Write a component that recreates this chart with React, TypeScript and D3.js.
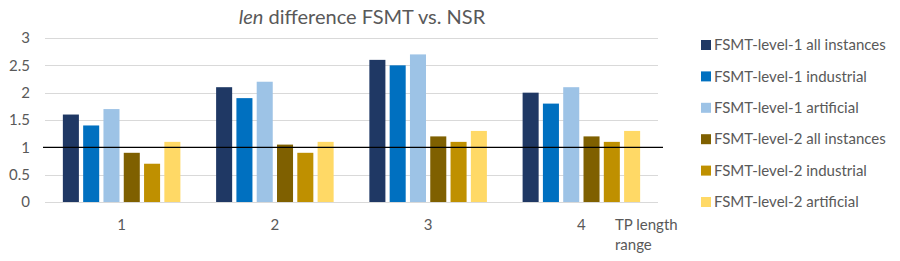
import React, { useRef, useEffect } from 'react';
import * as d3 from 'd3';

const categories = ['1', '2', '3', '4'];
const seriesNames = [
  'FSMT-level-1 all instances',
  'FSMT-level-1 industrial',
  'FSMT-level-1 artificial',
  'FSMT-level-2 all instances',
  'FSMT-level-2 industrial',
  'FSMT-level-2 artificial',
];
const level1All = [1.6, 2.1, 2.6, 2.0];
const level1Industrial = [1.4, 1.9, 2.5, 1.8];
const level1Artificial = [1.7, 2.2, 2.7, 2.1];
const level2All = [0.9, 1.05, 1.2, 1.2];
const level2Industrial = [0.7, 0.9, 1.1, 1.1];
const level2Artificial = [1.1, 1.1, 1.3, 1.3];
const yTicks = [0, 0.5, 1, 1.5, 2, 2.5, 3];
const colors = ['#1F3864', '#0070C0', '#9DC3E6', '#7F6000', '#BF9000', '#FFD966'];

const App = () => {
  const ref = useRef<SVGSVGElement>(null);

  useEffect(() => {
    const width = 900;
    const height = 261;
    const font = 'Lato, "Open Sans", sans-serif';
    const values = [level1All, level1Industrial, level1Artificial, level2All, level2Industrial, level2Artificial];

    const svg = d3.select(ref.current);
    svg.selectAll('*').remove();
    svg.attr('width', width).attr('height', height).style('font-family', font);

    svg.append('rect').attr('width', width).attr('height', height).attr('fill', '#fff');

    const x0 = d3.scaleBand<string>().domain(categories).range([45, 658]);
    const x1 = d3.scaleBand<string>()
      .domain(seriesNames)
      .range([0, x0.bandwidth()])
      .paddingInner(0.21)
      .paddingOuter(0.88);
    const y = d3.scaleLinear().domain([0, 3]).range([202, 38]);

    // gridlines
    svg.append('g')
      .selectAll('line')
      .data(yTicks)
      .join('line')
      .attr('x1', 45)
      .attr('x2', 658)
      .attr('y1', d => Math.round(y(d)) + 0.5)
      .attr('y2', d => Math.round(y(d)) + 0.5)
      .attr('stroke', '#D9D9D9')
      .attr('stroke-width', 1);

    svg.append('g')
      .selectAll('text')
      .data(yTicks)
      .join('text')
      .attr('x', 30)
      .attr('y', d => y(d))
      .attr('dy', '0.35em')
      .attr('text-anchor', 'end')
      .attr('fill', '#595959')
      .style('font-size', '15px')
      .text(d => String(d));

    // bars
    const groups = svg.append('g')
      .selectAll('g')
      .data(categories)
      .join('g')
      .attr('transform', d => `translate(${x0(d)},0)`);

    groups.selectAll('rect')
      .data((_, i) => seriesNames.map((s, j) => ({ s, v: values[j][i], j })))
      .join('rect')
      .attr('x', d => x1(d.s)!)
      .attr('width', x1.bandwidth())
      .attr('y', d => y(d.v))
      .attr('height', d => y(0) - y(d.v))
      .attr('fill', d => colors[d.j]);

    // reference line at 1
    svg.append('line')
      .attr('x1', 43)
      .attr('x2', 663)
      .attr('y1', y(1))
      .attr('y2', y(1))
      .attr('stroke', '#000')
      .attr('stroke-width', 1.3);

    // category labels
    svg.append('g')
      .selectAll('text')
      .data(categories)
      .join('text')
      .attr('x', d => x0(d)! + x0.bandwidth() / 2)
      .attr('y', 230)
      .attr('text-anchor', 'middle')
      .attr('fill', '#595959')
      .style('font-size', '15px')
      .text(d => d);

    const axisTitle = svg.append('text')
      .attr('x', 615)
      .attr('y', 230)
      .attr('fill', '#595959')
      .style('font-size', '15px');
    axisTitle.append('tspan').attr('x', 615).text('TP length');
    axisTitle.append('tspan').attr('x', 615).attr('dy', 20).text('range');

    // title
    const title = svg.append('text')
      .attr('x', 362)
      .attr('y', 24)
      .attr('text-anchor', 'middle')
      .attr('fill', '#595959')
      .style('font-size', '20px');
    title.append('tspan').style('font-style', 'italic').text('len');
    title.append('tspan').text(' difference FSMT vs. NSR');

    // legend
    const legend = svg.append('g')
      .selectAll('g')
      .data(seriesNames)
      .join('g')
      .attr('transform', (_, i) => `translate(701,${45 + i * 31.4})`);
    legend.append('rect')
      .attr('x', 0)
      .attr('y', -5)
      .attr('width', 10)
      .attr('height', 10)
      .attr('fill', (_, i) => colors[i]);
    legend.append('text')
      .attr('x', 13)
      .attr('y', 0)
      .attr('dy', '0.35em')
      .attr('fill', '#595959')
      .style('font-size', '15px')
      .text(d => d);
  }, []);

  return <svg ref={ref} style={{ position: 'absolute', left: 0, top: 0 }}></svg>;
};

export default App;
